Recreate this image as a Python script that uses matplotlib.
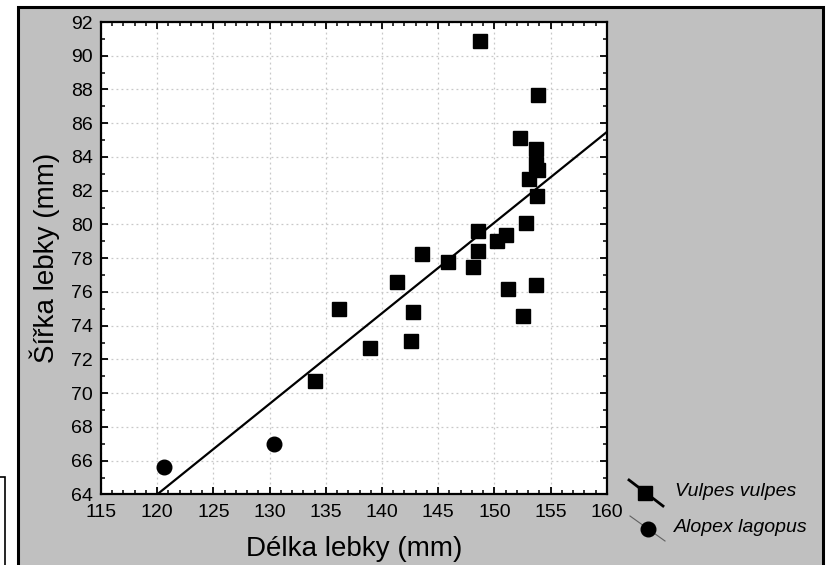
import matplotlib
matplotlib.use("Agg")
import matplotlib.pyplot as plt
from matplotlib.patches import Rectangle
from matplotlib.lines import Line2D
from matplotlib.ticker import MultipleLocator

plt.rcParams["font.family"] = ["Liberation Sans", "DejaVu Sans"]

# Vulpes vulpes (squares)
vulpes_len = [148.7, 153.9, 152.3, 153.7, 153.7, 153.9, 153.1, 153.8,
              152.8, 148.5, 151.0, 150.2, 148.5, 148.1, 151.2, 153.7, 152.5,
              134.0, 136.2, 138.9, 141.3, 142.8, 142.6, 143.6, 145.9]
vulpes_wid = [90.9, 87.7, 85.1, 84.5, 83.6, 83.2, 82.7, 81.7,
              80.1, 79.6, 79.35, 79.0, 78.4, 77.5, 76.2, 76.4, 74.6,
              70.75, 75.0, 72.7, 76.6, 74.8, 73.1, 78.25, 77.8]
# Alopex lagopus (circles)
alopex_len = [120.6, 130.4]
alopex_wid = [65.6, 67.0]
# regression line
reg_slope = 0.537
reg_intercept = -0.44

W, H = 827, 565
fig = plt.figure(figsize=(W / 100, H / 100), dpi=100)
fig.patch.set_facecolor("white")


def px(x, y):
    return x / W, 1 - y / H


# grey panel with black border
x0, y0 = px(18, 580)
x1, y1 = px(823, 7)
fig.add_artist(Rectangle((x0, y0), x1 - x0, y1 - y0, transform=fig.transFigure,
                         facecolor="#c0c0c0", edgecolor="black", linewidth=2.2, zorder=0))
# small white box in the bottom left corner
bx0, by0 = px(-10, 580)
bx1, by1 = px(5, 477)
fig.add_artist(Rectangle((bx0, by0), bx1 - bx0, by1 - by0, transform=fig.transFigure,
                         facecolor="white", edgecolor="black", linewidth=1.2, zorder=0))

l, b = px(101, 494.4)
r, t = px(606.8, 22)
ax = fig.add_axes([l, b, r - l, t - b])
ax.set_facecolor("white")

ax.set_xlim(115, 160)
ax.set_ylim(64, 92)
ax.xaxis.set_major_locator(MultipleLocator(5))
ax.xaxis.set_minor_locator(MultipleLocator(1))
ax.yaxis.set_major_locator(MultipleLocator(2))
ax.yaxis.set_minor_locator(MultipleLocator(1))
ax.tick_params(which="both", direction="in", top=True, right=True, colors="black",
               labelsize=14)
ax.tick_params(which="major", length=5, width=1.3)
ax.tick_params(which="minor", length=3, width=1.1)
ax.tick_params(axis="x", pad=7)
ax.tick_params(axis="y", pad=6)
for s in ax.spines.values():
    s.set_linewidth(1.6)
ax.grid(True, which="major", linestyle=(0, (1.5, 2.5)), color="#c8c8c8", linewidth=0.9)
ax.set_axisbelow(True)

xs = [115, 160]
ax.plot(xs, [reg_slope * v + reg_intercept for v in xs], color="black", lw=1.6, zorder=2)
ax.plot(vulpes_len, vulpes_wid, "s", color="black", markersize=9.5, zorder=3)
ax.plot(alopex_len, alopex_wid, "o", color="black", markersize=10.5, zorder=3)

ax.set_xlabel("Délka lebky (mm)", fontsize=20, labelpad=11)
ax.set_ylabel("Šířka lebky (mm)", fontsize=20, labelpad=8)

# legend drawn outside the plot, Statistica style
fig.add_artist(Line2D(*zip(px(629, 480), px(663, 506)), transform=fig.transFigure,
                      color="black", lw=2.0))
mx, my = px(645, 493)
fig.add_artist(Line2D([mx], [my], transform=fig.transFigure, marker="s",
                      color="black", markersize=9.5))
fig.add_artist(Line2D(*zip(px(630, 516), px(665, 541)), transform=fig.transFigure,
                      color="#606060", lw=0.8))
mx, my = px(648, 529)
fig.add_artist(Line2D([mx], [my], transform=fig.transFigure, marker="o",
                      color="black", markersize=10.5))
tx, ty = px(675, 492)
fig.text(tx, ty, "Vulpes vulpes", fontsize=14, style="italic", va="center", ha="left")
tx, ty = px(674, 528)
fig.text(tx, ty, "Alopex lagopus", fontsize=14, style="italic", va="center", ha="left")

fig.savefig("out.png", dpi=100)
